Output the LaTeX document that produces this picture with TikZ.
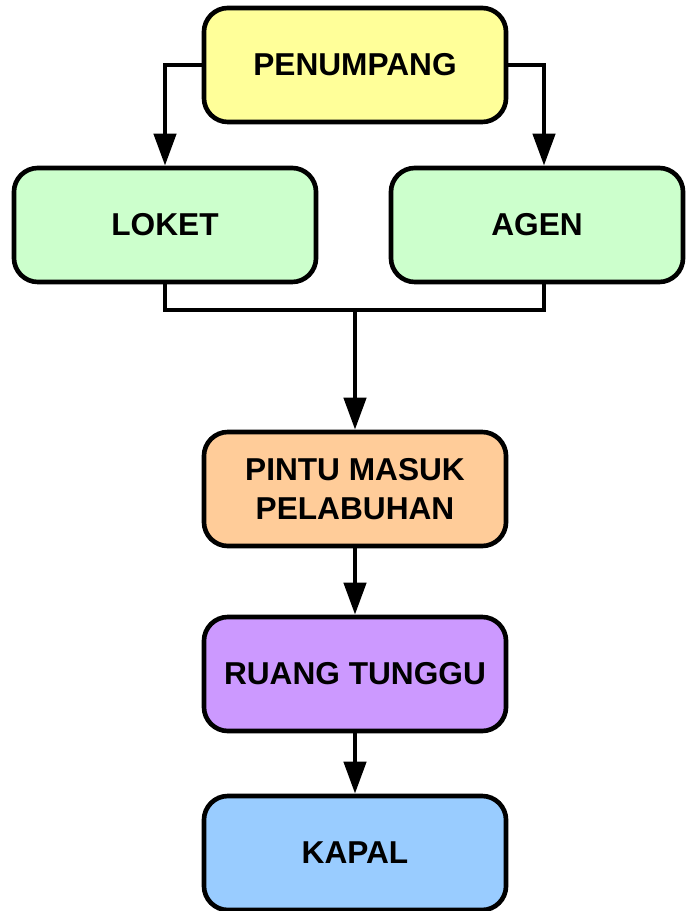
\documentclass[tikz,border=0pt]{standalone}
\usepackage{fontspec}
\setmainfont{Liberation Sans}
\usetikzlibrary{arrows.meta,positioning}

\definecolor{boxyellow}{HTML}{FFFF99}
\definecolor{boxgreen}{HTML}{CCFFCC}
\definecolor{boxorange}{HTML}{FFCC99}
\definecolor{boxpurple}{HTML}{CC99FF}
\definecolor{boxblue}{HTML}{99CCFF}

\begin{document}
\begin{tikzpicture}[x=0.025cm,y=-0.025cm,
    box/.style={draw,line width=3.3pt,rounded corners=0.6cm,minimum width=7.55cm,
        minimum height=2.85cm,align=center,
        font=\fontsize{22.5}{27.5}\selectfont\bfseries},
    link/.style={line width=3.2pt},
    flow/.style={link,-{Triangle[length=0.8cm,width=0.55cm]}}]
    \useasboundingbox (0,0) rectangle (685,911);

    % Draw boxes
    \node[box,fill=boxyellow] (penumpang) at (355,65) {PENUMPANG};
    \node[box,fill=boxgreen] (loket) at (165,225) {LOKET};
    \node[box,fill=boxgreen,minimum width=7.3cm] (agen) at (537,225) {AGEN};
    \node[box,fill=boxorange] (pintu) at (355,489) {PINTU MASUK\\PELABUHAN};
    \node[box,fill=boxpurple] (ruang) at (355,674) {RUANG TUNGGU};
    \node[box,fill=boxblue] (kapal) at (355,853) {KAPAL};

    % Draw connectors
    \coordinate (join) at (355,310);
    \draw[flow] (penumpang.west) -| (loket.north);
    \draw[flow] (penumpang.east) -| ([xshift=0.175cm]agen.north);
    \draw[link] (loket.south) |- (join) -| ([xshift=0.175cm]agen.south);
    \draw[flow] (join) -- (pintu);
    \draw[flow] (pintu) -- (ruang);
    \draw[flow] (ruang) -- (kapal);
\end{tikzpicture}
\end{document}
